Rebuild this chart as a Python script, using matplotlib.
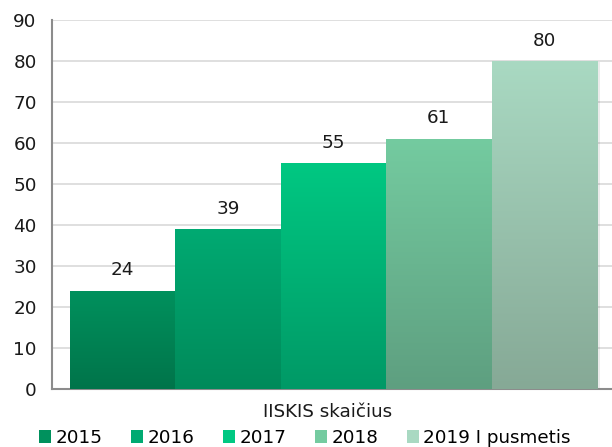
import numpy as np
import matplotlib.pyplot as plt
from matplotlib.colors import LinearSegmentedColormap
from matplotlib.patches import Patch

# -- Data
years = ['2015', '2016', '2017', '2018', '2019 I pusmetis']
values = [24, 39, 55, 61, 80]
category = 'IISKIS skaičius'

# gradient colours: (top, bottom)
top_colors = ['#00915D', '#00AA72', '#00C882', '#74CBA0', '#A9D9C2']
bottom_colors = ['#00744A', '#008A5A', '#009966', '#5E9F80', '#86A996']

plt.rcParams['font.family'] = ['DejaVu Sans']
fs = 13.2

fig = plt.figure(figsize=(6.12, 4.47), dpi=100)
ax = fig.add_axes([0.085, 0.1298, 0.915, 0.8255])

x = np.arange(len(years)) - 2
bars = ax.bar(x, values, width=1.0, color='none', zorder=3)

grad = np.linspace(0, 1, 256).reshape(-1, 1)
for b, top, bot, v in zip(bars, top_colors, bottom_colors, values):
    x0, w, h = b.get_x(), b.get_width(), b.get_height()
    # soft shadow on the right
    ax.bar(x0 + w / 2 + 0.03, h, width=w, bottom=-0.3, color='#000000', alpha=0.08, zorder=2)
    cmap = LinearSegmentedColormap.from_list('g', [bot, top])
    im = ax.imshow(grad, cmap=cmap, aspect='auto', origin='lower',
                   extent=[x0, x0 + w, 0, h], zorder=3)
    im.set_clip_path(b)
    ax.text(x0 + w / 2, h + 2.8, str(v), ha='center', va='bottom', fontsize=fs, color='#1a1a1a', zorder=4)

ax.set_xlim(-2.671, 2.642)
ax.set_ylim(0, 90)
ax.set_yticks(range(0, 91, 10))
ax.set_xticks([-0.06])
ax.set_xticklabels([category])
ax.tick_params(axis='both', length=0, labelsize=fs, colors='#1a1a1a')
ax.tick_params(axis='x', pad=10)
ax.tick_params(axis='y', pad=11)
ax.grid(axis='y', color='#d9d9d9', linewidth=1.2, zorder=0)
ax.set_axisbelow(True)
for s in ['top', 'right']:
    ax.spines[s].set_visible(False)
for s in ['left', 'bottom']:
    ax.spines[s].set_color('#8c8c8c')
    ax.spines[s].set_linewidth(1.5)

handles = [Patch(facecolor=c, edgecolor='none') for c in top_colors]
fig.legend(handles, years, loc='center', bbox_to_anchor=(305 / 612, 1 - 438 / 447), ncol=5,
           frameon=False, fontsize=fs, handlelength=0.65, handleheight=0.65,
           handletextpad=0.25, columnspacing=1.55, borderaxespad=0)

fig.savefig('out.png', dpi=100)
